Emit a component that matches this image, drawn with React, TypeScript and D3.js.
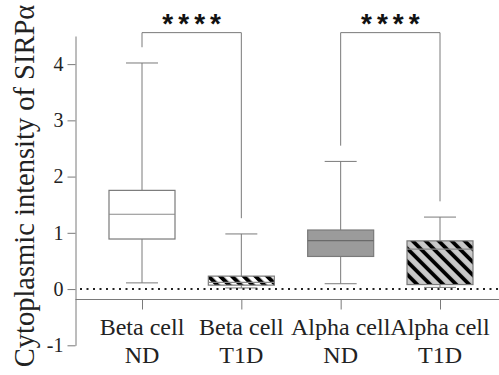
import React, { useEffect, useRef } from 'react';
import * as d3 from 'd3';

// groups, two-line labels
const groups = ['Beta ND', 'Beta T1D', 'Alpha ND', 'Alpha T1D'];
const labelTop = ['Beta cell', 'Beta cell', 'Alpha cell', 'Alpha cell'];
const labelBottom = ['ND', 'T1D', 'ND', 'T1D'];

// box stats
const whiskerLow = [0.11, 0.02, 0.095, 0.03];
const q1 = [0.89, 0.07, 0.58, 0.08];
const median = [1.33, 0.12, 0.86, 0.71];
const q3 = [1.755, 0.23, 1.05, 0.857];
const whiskerHigh = [4.02, 0.98, 2.27, 1.28];

const yTicks = [-1, 0, 1, 2, 3, 4];
const comparisons = [[0, 1], [2, 3]];
const sigLabels = ['****', '****'];

const fills = ['#ffffff', 'url(#hatchBeta)', '#9b9b9b', 'url(#hatchAlpha)'];

const width = 499;
const height = 375;
const serif = '"Liberation Serif", "Times New Roman", serif';

function App() {
  const ref = useRef<SVGSVGElement>(null);

  useEffect(() => {
    drawChart();
  }, []);

  function drawChart() {
    const svg = d3.select(ref.current);
    svg.selectAll('*').remove();

    const y = d3.scaleLinear().domain([-1, 4.5]).range([345.3, 36]);
    const x = d3.scalePoint<string>().domain(groups).range([142, 440]);
    const boxW = 66;
    const capW = 32;
    const lineColor = '#7a7a7a';

    // hatch patterns
    const defs = svg.append('defs');
    const hb = defs
      .append('pattern')
      .attr('id', 'hatchBeta')
      .attr('patternUnits', 'userSpaceOnUse')
      .attr('width', 8.3)
      .attr('height', 8.3)
      .attr('patternTransform', 'rotate(-45)');
    hb.append('rect').attr('width', 8.3).attr('height', 8.3).attr('fill', '#fff');
    hb.append('rect').attr('width', 4).attr('height', 8.3).attr('fill', '#000');

    const ha = defs
      .append('pattern')
      .attr('id', 'hatchAlpha')
      .attr('patternUnits', 'userSpaceOnUse')
      .attr('width', 9.2)
      .attr('height', 9.2)
      .attr('patternTransform', 'rotate(-45)');
    ha.append('rect').attr('width', 9.2).attr('height', 9.2).attr('fill', '#c9c9c9');
    ha.append('rect').attr('width', 3.8).attr('height', 9.2).attr('fill', '#000');

    // y axis
    const yAxis = svg
      .append('g')
      .attr('transform', 'translate(75.5,0)')
      .call(
        d3
          .axisLeft(y)
          .tickValues(yTicks)
          .tickFormat(d => String(d))
          .tickSize(8)
          .tickSizeOuter(0)
          .tickPadding(4)
      );
    yAxis.attr('font-family', null).attr('font-size', null);
    yAxis.select('.domain').attr('stroke', lineColor);
    yAxis.selectAll('.tick line').attr('stroke', lineColor);
    yAxis
      .selectAll('.tick text')
      .style('font-family', serif)
      .style('font-size', '20px')
      .attr('fill', '#222');

    // x axis (sits slightly below zero)
    const xBase = Math.round(y(-0.18)) + 0.5;
    svg
      .append('line')
      .attr('x1', 75.5)
      .attr('x2', width)
      .attr('y1', xBase)
      .attr('y2', xBase)
      .attr('stroke', lineColor);
    const xAxis = svg
      .append('g')
      .attr('transform', `translate(0,${xBase})`)
      .call(d3.axisBottom(x).tickSize(10).tickFormat(() => ''));
    xAxis.select('.domain').remove();
    xAxis.selectAll('.tick line').attr('stroke', lineColor);

    // category labels
    const labels = svg
      .append('g')
      .selectAll('text')
      .data(groups)
      .enter()
      .append('text')
      .attr('text-anchor', 'middle')
      .style('font-family', serif)
      .style('font-size', '24px')
      .attr('fill', '#222');
    labels
      .append('tspan')
      .attr('x', d => x(d)!)
      .attr('y', 335)
      .text((_, i) => labelTop[i]);
    labels
      .append('tspan')
      .attr('x', d => x(d)!)
      .attr('y', 363)
      .text((_, i) => labelBottom[i]);

    // y axis title
    svg
      .append('text')
      .attr('transform', `translate(34,${186}) rotate(-90)`)
      .attr('text-anchor', 'middle')
      .style('font-family', serif)
      .style('font-size', '28.5px')
      .attr('fill', '#222')
      .text('Cytoplasmic intensity of SIRPα');

    // boxes
    const box = svg.append('g').selectAll('g').data(groups).enter().append('g');

    box
      .append('line')
      .attr('x1', d => x(d)!)
      .attr('x2', d => x(d)!)
      .attr('y1', (_, i) => y(q3[i]))
      .attr('y2', (_, i) => y(whiskerHigh[i]))
      .attr('stroke', lineColor);
    box
      .append('line')
      .attr('x1', d => x(d)!)
      .attr('x2', d => x(d)!)
      .attr('y1', (_, i) => y(q1[i]))
      .attr('y2', (_, i) => y(whiskerLow[i]))
      .attr('stroke', lineColor);
    box
      .append('line')
      .attr('x1', d => x(d)! - capW / 2)
      .attr('x2', d => x(d)! + capW / 2)
      .attr('y1', (_, i) => y(whiskerHigh[i]))
      .attr('y2', (_, i) => y(whiskerHigh[i]))
      .attr('stroke', lineColor);
    box
      .append('line')
      .attr('x1', d => x(d)! - capW / 2)
      .attr('x2', d => x(d)! + capW / 2)
      .attr('y1', (_, i) => y(whiskerLow[i]))
      .attr('y2', (_, i) => y(whiskerLow[i]))
      .attr('stroke', lineColor);
    box
      .append('rect')
      .attr('x', d => x(d)! - boxW / 2)
      .attr('y', (_, i) => y(q3[i]))
      .attr('width', boxW)
      .attr('height', (_, i) => y(q1[i]) - y(q3[i]))
      .attr('fill', (_, i) => fills[i])
      .attr('stroke', lineColor)
      .attr('stroke-width', 1.2);
    box
      .append('line')
      .attr('x1', d => x(d)! - boxW / 2)
      .attr('x2', d => x(d)! + boxW / 2)
      .attr('y1', (_, i) => y(median[i]))
      .attr('y2', (_, i) => y(median[i]))
      .attr('stroke', (_, i) => (i === 2 ? '#6a6a6a' : '#8a8a8a'))
      .attr('stroke-width', 1.2);

    // dotted zero line
    svg
      .append('line')
      .attr('x1', 80)
      .attr('x2', width)
      .attr('y1', y(0))
      .attr('y2', y(0))
      .attr('stroke', '#222')
      .attr('stroke-width', 2)
      .attr('stroke-dasharray', '2 4.5');

    // significance brackets
    const bracketY = y(4.56);
    comparisons.forEach(([a, b], k) => {
      const xa = x(groups[a])!;
      const xb = x(groups[b])!;
      svg
        .append('path')
        .attr(
          'd',
          `M${xa},${y(whiskerHigh[a] + 0.28)}V${bracketY}H${xb}V${y(whiskerHigh[b] + 0.28)}`
        )
        .attr('fill', 'none')
        .attr('stroke', lineColor);
      svg
        .append('text')
        .attr('x', (xa + xb) / 2 + 2.5)
        .attr('y', 33)
        .attr('text-anchor', 'middle')
        .style('font-family', '"Liberation Sans", Arial, sans-serif')
        .style('font-weight', 'bold')
        .style('font-size', '28px')
        .style('letter-spacing', '5px')
        .attr('fill', '#111')
        .text(sigLabels[k]);
    });
  }

  return (
    <svg
      ref={ref}
      width={width}
      height={height}
      style={{ position: 'absolute', left: 0, top: 0, background: '#fff' }}
    />
  );
}

export default App;
